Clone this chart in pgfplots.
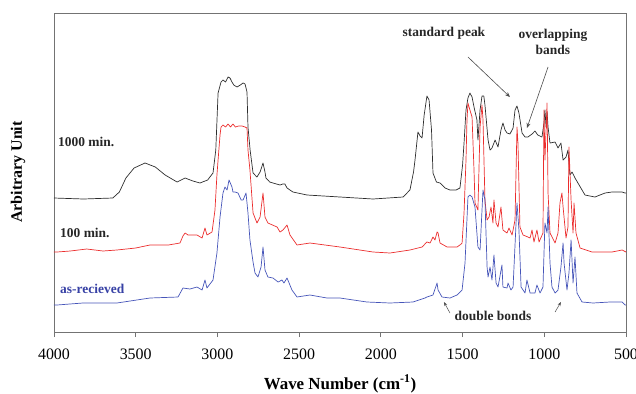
\documentclass[border=0pt]{standalone}
\usepackage{fontspec}
\setmainfont{Liberation Serif}
\usepackage{pgfplots}
\pgfplotsset{compat=1.18}
\usetikzlibrary{arrows.meta}
\definecolor{cblack}{RGB}{45,45,45}
\definecolor{cred}{RGB}{235,45,45}
\definecolor{cblue}{RGB}{70,85,185}
\definecolor{ctext}{RGB}{55,65,165}
\definecolor{cframe}{RGB}{115,115,115}
\begin{document}
\begin{tikzpicture}
\useasboundingbox (0,0) rectangle (636bp,-394bp);
\begin{axis}[
  at={(340bp,-172.5bp)}, anchor=center,
  scale only axis, width=572bp, height=319bp,
  xmin=500, xmax=4000, x dir=reverse,
  ymin=13, ymax=332, y dir=reverse,
  ytick=\empty, xtick={500,1000,...,4000},
  tick align=outside, xtick pos=bottom, major tick length=5bp,
  scaled x ticks=false,
  axis line style={draw=cframe, line width=0.8pt},
  every tick/.style={draw=cframe, line width=0.8pt},
  /pgf/number format/assume math mode=true,
  /pgf/number format/1000 sep={},
  xticklabel style={font=\fontsize{16}{16}\selectfont, yshift=-8bp},
  clip=false,
  every axis plot/.append style={line width=0.7pt, line join=round},
]
% 1000 min (black)
\addplot[cblack] coordinates {
(4000,198)(3820,199)(3640,198)(3600,192)(3560,178)(3510,168)(3443,163)(3380,167)(3320,175)(3247,182)(3198,178)(3150,181)(3107,183)(3060,180)(3027,173)(3010,150)(2996,93)(2978,82)(2966,80)(2950,82)(2935,77)(2923,78)(2911,82)(2900,85)(2880,87)(2860,85)(2843,83)(2831,84)(2819,92)(2813,127)(2800,150)(2782,173)(2758,177)(2739,172)(2721,163)(2709,172)(2703,178)(2680,182)(2660,183)(2617,185)(2600,184)(2587,184)(2574,188)(2538,192)(2452,195)(2250,197)(2048,199)(1864,197)(1822,190)(1800,172)(1791,160)(1773,132)(1760,136)(1748,138)(1735,115)(1718,96)(1705,100)(1699,112)(1690,130)(1681,173)(1660,182)(1638,183)(1607,188)(1577,190)(1540,190)(1516,188)(1500,165)(1491,143)(1479,110)(1467,98)(1455,93)(1442,97)(1430,107)(1412,120)(1406,140)(1393,110)(1381,96)(1370,96)(1363,105)(1344,140)(1332,150)(1320,148)(1301,140)(1283,147)(1265,130)(1253,123)(1240,130)(1228,133)(1210,134)(1191,128)(1179,110)(1167,106)(1155,113)(1136,133)(1118,137)(1100,137)(1075,134)(1057,131)(1040,135)(1014,137)(1002,123)(996,110)(989,127)(983,112)(977,127)(965,143)(934,142)(916,148)(898,143)(885,160)(867,157)(855,150)(843,175)(830,172)(812,178)(794,183)(751,195)(690,197)(628,193)(586,192)(524,192)(506,193)(500,193)
};
% 100 min (red)
\addplot[cred] coordinates {
(4000,252)(3982,252)(3900,251)(3800,249)(3700,251)(3615,250)(3500,248)(3413,245)(3300,245)(3229,243)(3211,236)(3198,233)(3180,235)(3168,235)(3125,235)(3094,238)(3076,228)(3064,235)(3033,232)(3015,210)(3003,175)(2996,160)(2984,135)(2978,127)(2966,125)(2950,127)(2935,124)(2920,127)(2905,124)(2890,127)(2870,126)(2850,126)(2831,127)(2819,128)(2813,150)(2801,170)(2782,213)(2758,223)(2739,217)(2721,193)(2709,217)(2691,223)(2635,227)(2617,232)(2599,230)(2574,225)(2556,235)(2513,245)(2434,243)(2250,247)(2048,252)(1944,253)(1822,250)(1748,247)(1718,242)(1699,243)(1681,237)(1669,240)(1656,232)(1650,233)(1638,243)(1595,247)(1534,247)(1516,245)(1503,243)(1491,213)(1479,160)(1473,120)(1467,103)(1455,110)(1442,117)(1430,170)(1424,203)(1406,210)(1393,127)(1381,105)(1375,120)(1363,200)(1350,220)(1338,217)(1326,207)(1314,223)(1308,200)(1295,223)(1283,227)(1265,207)(1253,230)(1228,233)(1216,228)(1197,235)(1179,220)(1167,127)(1161,143)(1149,227)(1130,235)(1100,237)(1087,238)(1075,230)(1063,242)(1045,230)(1032,242)(1008,233)(1002,110)(996,160)(989,130)(983,103)(977,193)(965,233)(934,243)(916,233)(904,203)(892,193)(885,207)(867,238)(855,227)(849,147)(836,200)(824,233)(818,203)(806,233)(781,248)(708,252)(586,252)(524,250)(500,252)
};
% as-received (blue)
\addplot[cblue] coordinates {
(4000,305)(3982,305)(3823,303)(3615,303)(3413,298)(3241,297)(3211,288)(3168,289)(3125,287)(3094,290)(3076,280)(3064,288)(3027,280)(3003,253)(2984,217)(2966,193)(2954,187)(2941,190)(2929,180)(2911,187)(2905,192)(2892,192)(2874,193)(2855,200)(2843,200)(2825,193)(2813,213)(2801,240)(2782,262)(2770,273)(2752,277)(2733,267)(2721,247)(2709,270)(2691,277)(2660,278)(2629,282)(2605,280)(2593,283)(2574,278)(2544,290)(2513,297)(2434,295)(2330,298)(2250,298)(2085,302)(1944,303)(1803,302)(1730,298)(1718,297)(1681,295)(1656,283)(1650,290)(1626,297)(1577,298)(1534,295)(1503,290)(1485,263)(1467,197)(1455,195)(1442,197)(1424,207)(1406,247)(1393,250)(1375,190)(1363,200)(1350,267)(1344,277)(1332,267)(1320,280)(1308,255)(1295,283)(1283,287)(1259,265)(1253,287)(1228,288)(1222,283)(1204,290)(1191,287)(1167,203)(1155,230)(1142,287)(1118,293)(1106,280)(1087,293)(1057,293)(1045,285)(1026,293)(1008,287)(996,223)(983,233)(977,207)(965,263)(953,287)(934,293)(916,290)(898,267)(885,243)(879,263)(861,290)(849,273)(836,240)(824,283)(812,257)(800,293)(769,302)(702,303)(598,302)(524,302)(506,305)(500,305)
};
% annotations
\tikzset{ann/.style={font=\fontsize{13.5}{16}\selectfont\bfseries, inner sep=0pt}}
\node[ann, anchor=west, text=black!85] at (axis cs:3976,142) {1000 min.};
\node[ann, anchor=west, text=black!85] at (axis cs:3963,233) {100 min.};
\node[ann, anchor=west, text=ctext] at (axis cs:3963,289) {as-recieved};
\node[ann, text=black!85] at (axis cs:1614,33) {standard peak};
\node[ann, text=black!85, align=center] at (axis cs:947,42) {overlapping\\bands};
\node[ann, text=black!85] at (axis cs:1314,316) {double bonds};
\draw[-{Stealth[length=5bp,width=4bp]}, draw=black!70, line width=0.6pt] (axis cs:1467,57) -- (axis cs:1210,97);
\draw[-{Stealth[length=5bp,width=4bp]}, draw=black!70, line width=0.6pt] (axis cs:977,67) -- (axis cs:1106,128);
\draw[-{Stealth[length=4bp,width=3bp]}, draw=black!70, line width=0.5pt] (axis cs:1577,313) -- (axis cs:1614,302);
\draw[-{Stealth[length=4bp,width=3bp]}, draw=black!70, line width=0.5pt] (axis cs:934,312) -- (axis cs:898,302);
% axis labels
\node[font=\fontsize{17}{17}\selectfont\bfseries] at (axis cs:2250,384) {Wave Number (cm\textsuperscript{-1})};
\node[font=\fontsize{16}{16}\selectfont\bfseries, rotate=90] at (axis cs:4220,172) {Arbitrary Unit};
\end{axis}
\end{tikzpicture}
\end{document}
